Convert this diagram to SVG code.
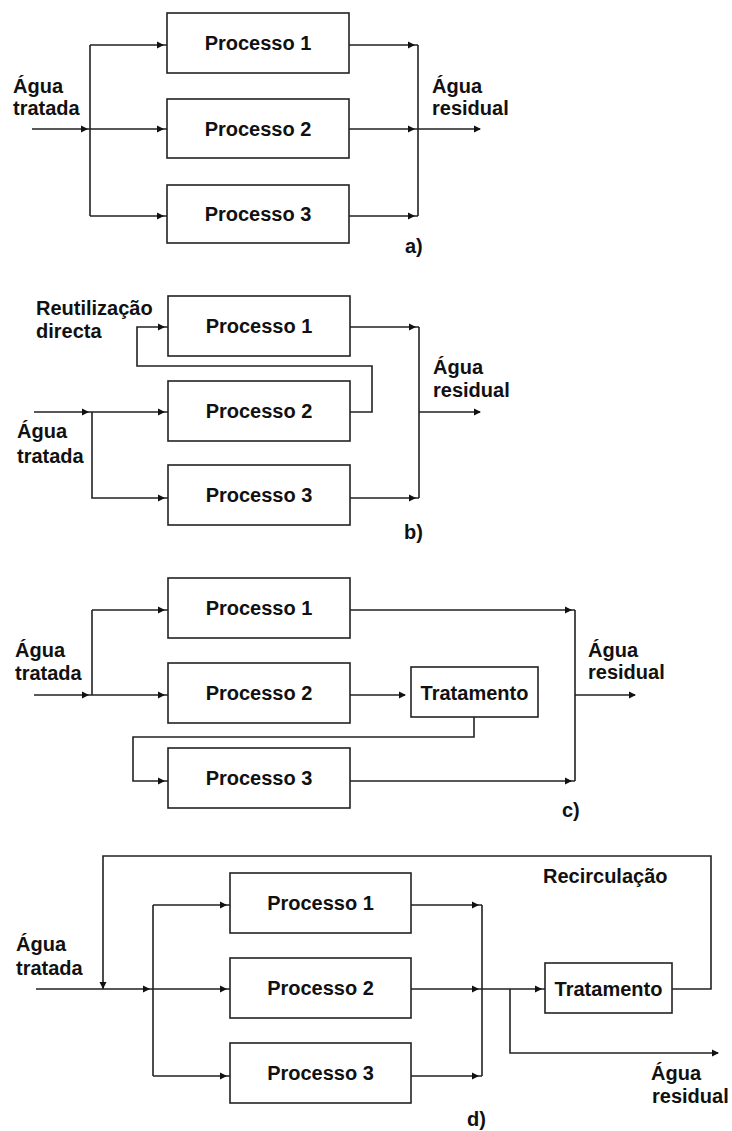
<svg xmlns="http://www.w3.org/2000/svg" xmlns:xlink="http://www.w3.org/1999/xlink" width="732" height="1131" viewBox="0 0 732 1131">
<style>
.box{fill:#fff;stroke:#222;stroke-width:1.6}
.ln{fill:none;stroke:#222;stroke-width:1.6}
.t{font-family:"Liberation Sans",Arial,sans-serif;font-weight:bold;font-size:20px;fill:#111}
.c{text-anchor:middle}
.ah{fill:#111}
</style>
<defs>
<path id="ah" class="ah" d="M0,0 L-7,-3.5 L-7,3.5 Z"/>
</defs>
<rect width="732" height="1131" fill="#fff"/>

<!-- ===== a) ===== -->
<g id="a-p1"><rect class="box" x="167" y="13" width="182" height="60"/><text class="t c" x="258" y="50">Processo 1</text></g>
<g id="a-p2"><rect class="box" x="167" y="99" width="182" height="59"/><text class="t c" x="258" y="136">Processo 2</text></g>
<g id="a-p3"><rect class="box" x="167" y="185" width="182" height="58"/><text class="t c" x="258" y="221">Processo 3</text></g>
<g id="a-in"><text class="t" x="13" y="93">Água</text><text class="t" x="13" y="115">tratada</text></g>
<g id="a-out"><text class="t" x="432" y="93">Água</text><text class="t" x="432" y="115">residual</text></g>
<g id="a-label"><text class="t" x="405" y="253">a)</text></g>

<!-- ===== b) ===== -->
<g id="b-p1"><rect class="box" x="168" y="296" width="182" height="60"/><text class="t c" x="259" y="333">Processo 1</text></g>
<g id="b-p2"><rect class="box" x="168" y="381" width="182" height="60"/><text class="t c" x="259" y="418">Processo 2</text></g>
<g id="b-p3"><rect class="box" x="168" y="465" width="182" height="60"/><text class="t c" x="259" y="502">Processo 3</text></g>
<g id="b-reuse"><text class="t" x="36" y="315">Reutilização</text><text class="t" x="36" y="338">directa</text></g>
<g id="b-in"><text class="t" x="17" y="438">Água</text><text class="t" x="17" y="463">tratada</text></g>
<g id="b-out"><text class="t" x="433" y="374">Água</text><text class="t" x="433" y="397">residual</text></g>
<g id="b-label"><text class="t" x="404" y="539">b)</text></g>

<!-- ===== c) ===== -->
<g id="c-p1"><rect class="box" x="168" y="578" width="182" height="60"/><text class="t c" x="259" y="615">Processo 1</text></g>
<g id="c-p2"><rect class="box" x="168" y="663" width="182" height="60"/><text class="t c" x="259" y="700">Processo 2</text></g>
<g id="c-p3"><rect class="box" x="168" y="748" width="182" height="60"/><text class="t c" x="259" y="785">Processo 3</text></g>
<g id="c-trat"><rect class="box" x="411" y="667" width="127" height="50"/><text class="t c" x="474.5" y="700">Tratamento</text></g>
<g id="c-in"><text class="t" x="15" y="657">Água</text><text class="t" x="15" y="680">tratada</text></g>
<g id="c-out"><text class="t" x="588" y="657">Água</text><text class="t" x="588" y="679">residual</text></g>
<g id="c-label"><text class="t" x="562" y="817">c)</text></g>

<!-- ===== d) ===== -->
<g id="d-p1"><rect class="box" x="230" y="873" width="181" height="60"/><text class="t c" x="320.5" y="910">Processo 1</text></g>
<g id="d-p2"><rect class="box" x="230" y="958" width="181" height="60"/><text class="t c" x="320.5" y="995">Processo 2</text></g>
<g id="d-p3"><rect class="box" x="230" y="1043" width="181" height="60"/><text class="t c" x="320.5" y="1080">Processo 3</text></g>
<g id="d-trat"><rect class="box" x="545" y="963" width="127" height="50"/><text class="t c" x="608.5" y="996">Tratamento</text></g>
<g id="d-in"><text class="t" x="16" y="951">Água</text><text class="t" x="16" y="975">tratada</text></g>
<g id="d-recirc"><text class="t" x="543" y="883">Recirculação</text></g>
<g id="d-out"><text class="t" x="651" y="1080">Água</text><text class="t" x="652" y="1103">residual</text></g>
<g id="d-label"><text class="t" x="467" y="1126">d)</text></g>

<g id="connectors">
<!-- a -->
<path class="ln" d="M32,129 H90 M90,45 V216 M90,45 H167 M90,129 H167 M90,216 H167 M349,45 H418 M349,129 H418 M349,216 H418 M418,45 V216 M418,129 H480"/>
<use href="#ah" x="88" y="129"/><use href="#ah" x="164" y="45"/><use href="#ah" x="164" y="129"/><use href="#ah" x="164" y="216"/>
<use href="#ah" x="415" y="45"/><use href="#ah" x="415" y="129"/><use href="#ah" x="415" y="216"/><use href="#ah" x="481" y="129"/>
<!-- b -->
<path class="ln" d="M34,412 H168 M92,412 V498 H168 M350,412 H372 V366 H137 V327 H168 M350,327 H419 M350,498 H419 M419,327 V498 M419,412 H480"/>
<use href="#ah" x="89" y="412"/><use href="#ah" x="165" y="412"/><use href="#ah" x="165" y="498"/><use href="#ah" x="165" y="327"/>
<use href="#ah" x="416" y="327"/><use href="#ah" x="416" y="498"/><use href="#ah" x="481" y="412"/>
<!-- c -->
<path class="ln" d="M34,695 H168 M92,610 V695 M92,610 H168 M350,695 H405 M474,717 V737 H133 V781 H168 M350,610 H575 M350,781 H575 M575,610 V781 M575,695 H635"/>
<use href="#ah" x="89" y="695"/><use href="#ah" x="165" y="610"/><use href="#ah" x="165" y="695"/><use href="#ah" x="165" y="781"/>
<use href="#ah" x="406" y="695"/><use href="#ah" x="572" y="610"/><use href="#ah" x="572" y="781"/><use href="#ah" x="636" y="695"/>
<!-- d -->
<path class="ln" d="M672,989 H711 V856 H103 V989 M36,989 H230 M153,905 V1076 M153,905 H230 M153,1076 H230 M411,905 H482 M411,989 H545 M411,1076 H482 M482,905 V1076 M510,989 V1053 H718"/>
<use href="#ah" transform="translate(103,989) rotate(90)"/>
<use href="#ah" x="150" y="989"/><use href="#ah" x="227" y="905"/><use href="#ah" x="227" y="989"/><use href="#ah" x="227" y="1076"/>
<use href="#ah" x="479" y="905"/><use href="#ah" x="479" y="989"/><use href="#ah" x="479" y="1076"/><use href="#ah" x="542" y="989"/><use href="#ah" x="719" y="1053"/>
</g>
</svg>
